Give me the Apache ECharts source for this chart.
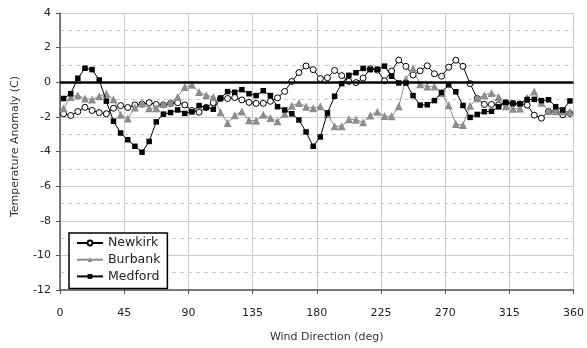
<!DOCTYPE html>
<html>
<head>
<meta charset="utf-8">
<script src="https://cdn.jsdelivr.net/npm/echarts@6/dist/echarts.min.js"></script>
<style>
  html, body { margin: 0; padding: 0; background: #fff; }
  #chart { width: 587px; height: 348px; }
</style>
</head>
<body>
<div id="chart"></div>
<script>
// Wind direction bin centres (deg)
const directions = [
  2.5, 7.5, 12.5, 17.5, 22.5, 27.5, 32.5, 37.5, 42.5, 47.5, 52.5, 57.5,
  62.5, 67.5, 72.5, 77.5, 82.5, 87.5, 92.5, 97.5, 102.5, 107.5, 112.5, 117.5,
  122.5, 127.5, 132.5, 137.5, 142.5, 147.5, 152.5, 157.5, 162.5, 167.5, 172.5, 177.5,
  182.5, 187.5, 192.5, 197.5, 202.5, 207.5, 212.5, 217.5, 222.5, 227.5, 232.5, 237.5,
  242.5, 247.5, 252.5, 257.5, 262.5, 267.5, 272.5, 277.5, 282.5, 287.5, 292.5, 297.5,
  302.5, 307.5, 312.5, 317.5, 322.5, 327.5, 332.5, 337.5, 342.5, 347.5, 352.5, 357.5
];

// Temperature anomaly (C) per station
const newkirk = [
  -1.82, -1.92, -1.69, -1.45, -1.63, -1.75, -1.82, -1.50, -1.35, -1.46, -1.31, -1.26,
  -1.18, -1.28, -1.31, -1.22, -1.18, -1.31, -1.63, -1.73, -1.46, -1.18, -0.94, -0.94,
  -0.88, -1.02, -1.16, -1.22, -1.22, -1.10, -0.90, -0.53, 0.05, 0.56, 0.94, 0.73,
  0.21, 0.26, 0.68, 0.38, 0.05, -0.02, 0.24, 0.78, 0.70, 0.08, 0.65, 1.28,
  0.92, 0.42, 0.66, 0.95, 0.49, 0.35, 0.87, 1.27, 0.92, -0.08, -0.94, -1.28,
  -1.28, -1.30, -1.20, -1.24, -1.26, -1.32, -1.90, -2.07, -1.69, -1.69, -1.88, -1.80
];
const burbank = [
  -1.50, -0.85, -0.75, -0.94, -1.00, -0.81, -0.66, -0.98, -1.88, -2.10, -1.46, -1.22,
  -1.50, -1.50, -1.26, -1.16, -0.85, -0.28, -0.15, -0.56, -0.75, -0.85, -1.73, -2.35,
  -1.90, -1.69, -2.20, -2.22, -1.88, -2.07, -2.25, -1.82, -1.36, -1.20, -1.41, -1.50,
  -1.39, -1.85, -2.54, -2.54, -2.14, -2.16, -2.31, -1.92, -1.71, -1.95, -1.97, -1.39,
  0.19, 0.80, -0.12, -0.24, -0.24, -0.62, -1.33, -2.41, -2.47, -1.36, -0.92, -0.75,
  -0.62, -0.85, -1.38, -1.53, -1.52, -0.90, -0.53, -1.18, -1.64, -1.67, -1.69, -1.70
];
const medford = [
  -0.94, -0.66, 0.23, 0.81, 0.73, 0.13, -1.09, -2.25, -2.93, -3.32, -3.70, -4.04,
  -3.42, -2.29, -1.84, -1.75, -1.60, -1.80, -1.71, -1.35, -1.46, -1.56, -0.92, -0.54,
  -0.58, -0.43, -0.66, -0.77, -0.49, -0.77, -1.41, -1.60, -1.82, -2.18, -2.87, -3.70,
  -3.16, -1.77, -0.81, -0.08, 0.40, 0.55, 0.80, 0.73, 0.75, 0.93, 0.35, -0.04,
  -0.05, -0.77, -1.32, -1.30, -1.06, -0.59, -0.15, -0.55, -1.34, -2.03, -1.86, -1.70,
  -1.68, -1.42, -1.16, -1.21, -1.24, -1.00, -0.99, -1.06, -1.01, -1.41, -1.60, -1.08
];

const xTicks = [0, 45, 90, 135, 180, 225, 270, 315, 360];
const yTicks = [-12, -10, -8, -6, -4, -2, 0, 2, 4];

const FONT = 'DejaVu Sans';
const pairs = (ys) => directions.map((d, i) => [d, ys[i]]);

const chart = echarts.init(document.getElementById('chart'), null, { renderer: 'canvas' });

chart.setOption({
  animation: false,
  backgroundColor: '#fff',
  textStyle: { fontFamily: FONT },
  grid: { left: 60, right: 12, top: 13, bottom: 51, containLabel: false },
  legend: {
    orient: 'vertical',
    left: 69,
    top: 233,
    padding: [3, 7, 5, 7],
    itemGap: 2.7,
    itemWidth: 26,
    itemHeight: 6,
    backgroundColor: '#fff',
    borderColor: '#000',
    borderWidth: 1.5,
    borderRadius: 0,
    textStyle: { fontFamily: FONT, fontSize: 12.5, color: '#222', lineHeight: 14 },
    data: ['Newkirk', 'Burbank', 'Medford']
  },
  xAxis: {
    type: 'value',
    min: xTicks[0],
    max: xTicks[xTicks.length - 1],
    interval: 45,
    name: 'Wind Direction (deg)',
    nameLocation: 'middle',
    nameGap: 42,
    nameTextStyle: { fontFamily: FONT, fontSize: 11, color: '#333', padding: [0, 0, 0, 20] },
    axisLine: { onZero: false, lineStyle: { color: '#555', width: 1.5 } },
    axisTick: { show: true, inside: false, length: 4, lineStyle: { color: '#555' } },
    axisLabel: { margin: 18, fontFamily: FONT, fontSize: 11, color: '#222' },
    splitLine: { show: true, lineStyle: { color: '#cccccc', width: 1 } }
  },
  yAxis: {
    type: 'value',
    min: yTicks[0],
    max: yTicks[yTicks.length - 1],
    interval: 2,
    name: 'Temperature Anomaly (C)',
    nameLocation: 'middle',
    nameGap: 39,
    nameTextStyle: { fontFamily: FONT, fontSize: 11, color: '#333', padding: [0, 0, 0, 10] },
    axisLine: { show: true, onZero: false, lineStyle: { color: '#555', width: 1.5 } },
    axisTick: { show: true, inside: false, length: 4, lineStyle: { color: '#555' } },
    axisLabel: { margin: 9, fontFamily: FONT, fontSize: 11, color: '#222' },
    splitLine: { show: true, lineStyle: { color: '#cccccc', width: 1 } },
    minorTick: { show: true, splitNumber: 2, length: 0, lineStyle: { color: 'rgba(0,0,0,0)' } },
    minorSplitLine: { show: true, lineStyle: { color: '#cccccc', width: 1, type: [4, 4] } }
  },
  series: [
    {
      name: 'Newkirk',
      type: 'line',
      data: pairs(newkirk),
      symbol: 'circle',
      symbolSize: 6,
      showAllSymbol: true,
      lineStyle: { color: '#000', width: 1 },
      itemStyle: { color: '#fff', borderColor: '#000', borderWidth: 1 },
      markLine: {
        silent: true,
        symbol: ['none', 'none'],
        label: { show: false },
        lineStyle: { color: '#000', width: 2.5, type: 'solid' },
        data: [{ yAxis: 0 }]
      },
      z: 3
    },
    {
      name: 'Burbank',
      type: 'line',
      data: pairs(burbank),
      symbol: 'triangle',
      symbolSize: 8,
      showAllSymbol: true,
      lineStyle: { color: '#8c8c8c', width: 1 },
      itemStyle: { color: '#8c8c8c', borderColor: '#8c8c8c', borderWidth: 0 },
      z: 4
    },
    {
      name: 'Medford',
      type: 'line',
      data: pairs(medford),
      symbol: 'rect',
      symbolSize: 5.5,
      showAllSymbol: true,
      lineStyle: { color: '#000', width: 1 },
      itemStyle: { color: '#000', borderColor: '#000', borderWidth: 0 },
      z: 5
    }
  ]
});
</script>
</body>
</html>
